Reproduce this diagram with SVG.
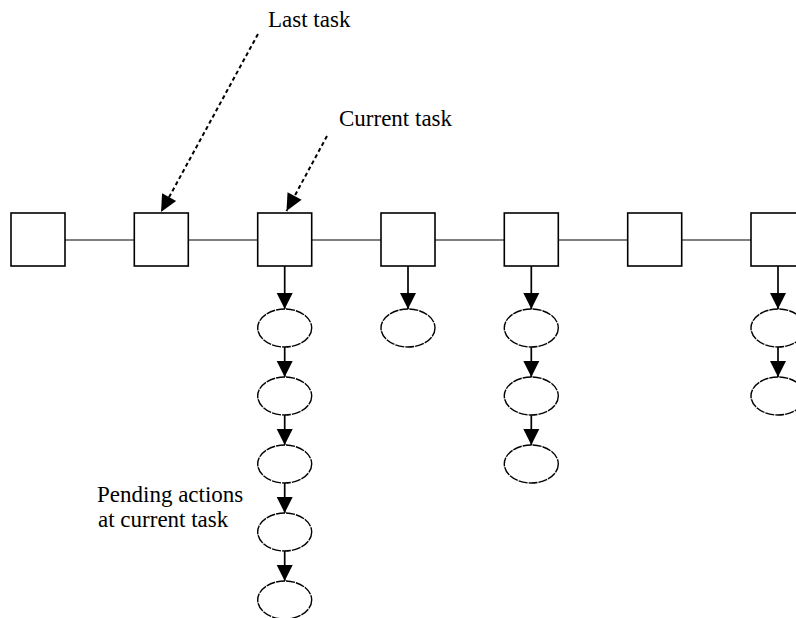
<svg xmlns="http://www.w3.org/2000/svg" width="796" height="618" viewBox="0 0 796 618">
<style>
.task{fill:#fff;stroke:#000;stroke-width:1.6}
.act{fill:#fff;stroke:#000;stroke-width:1.4;stroke-dasharray:9 1}
.link{stroke:#000;stroke-width:1.2;fill:none}
.down{stroke:#000;stroke-width:1.7;fill:none;marker-end:url(#ah)}
.ptr{stroke:#000;stroke-width:2;fill:none;stroke-dasharray:4 3;marker-end:url(#ah2)}
</style>
<defs>
<marker id="ah" markerUnits="userSpaceOnUse" markerWidth="17" markerHeight="17" refX="16" refY="8" orient="auto" overflow="visible">
<path d="M0,0 L16,8 L0,16 Z" fill="#000"/>
</marker>
<marker id="ah2" markerUnits="userSpaceOnUse" markerWidth="18" markerHeight="18" refX="17" refY="8" orient="auto" overflow="visible">
<path d="M0,0 L17,8 L0,16 Z" fill="#000"/>
</marker>
</defs>
<rect width="796" height="618" fill="#fff"/>
<g id="connectors">
<line class="link" x1="65" y1="240" x2="134.3" y2="240"/>
<line class="link" x1="188.3" y1="240" x2="257.7" y2="240"/>
<line class="link" x1="311.7" y1="240" x2="381" y2="240"/>
<line class="link" x1="435" y1="240" x2="504.3" y2="240"/>
<line class="link" x1="558.3" y1="240" x2="627.7" y2="240"/>
<line class="link" x1="681.7" y1="240" x2="751" y2="240"/>
<line class="down" x1="284.7" y1="266" x2="284.7" y2="309"/>
<line class="down" x1="284.7" y1="347" x2="284.7" y2="377"/>
<line class="down" x1="284.7" y1="415" x2="284.7" y2="445"/>
<line class="down" x1="284.7" y1="483" x2="284.7" y2="513"/>
<line class="down" x1="284.7" y1="551" x2="284.7" y2="581"/>
<line class="down" x1="408" y1="266" x2="408" y2="309"/>
<line class="down" x1="531.3" y1="266" x2="531.3" y2="309"/>
<line class="down" x1="531.3" y1="347" x2="531.3" y2="377"/>
<line class="down" x1="531.3" y1="415" x2="531.3" y2="445"/>
<line class="down" x1="778" y1="266" x2="778" y2="309"/>
<line class="down" x1="778" y1="347" x2="778" y2="377"/>
<line class="ptr" x1="258" y1="34" x2="161" y2="212"/>
<line class="ptr" x1="327" y1="136" x2="286.5" y2="211"/>
</g>
<g id="task1"><rect class="task" x="11" y="213" width="54" height="53"/></g>
<g id="task2"><rect class="task" x="134.3" y="213" width="54" height="53"/></g>
<g id="task3"><rect class="task" x="257.7" y="213" width="54" height="53"/></g>
<g id="task4"><rect class="task" x="381" y="213" width="54" height="53"/></g>
<g id="task5"><rect class="task" x="504.3" y="213" width="54" height="53"/></g>
<g id="task6"><rect class="task" x="627.7" y="213" width="54" height="53"/></g>
<g id="task7"><rect class="task" x="751" y="213" width="54" height="53"/></g>
<g id="action3a"><ellipse class="act" cx="284.7" cy="328" rx="27" ry="19"/></g>
<g id="action3b"><ellipse class="act" cx="284.7" cy="396" rx="27" ry="19"/></g>
<g id="action3c"><ellipse class="act" cx="284.7" cy="464" rx="27" ry="19"/></g>
<g id="action3d"><ellipse class="act" cx="284.7" cy="532" rx="27" ry="19"/></g>
<g id="action3e"><ellipse class="act" cx="284.7" cy="600" rx="27" ry="19"/></g>
<g id="action4a"><ellipse class="act" cx="408" cy="328" rx="27" ry="19"/></g>
<g id="action5a"><ellipse class="act" cx="531.3" cy="328" rx="27" ry="19"/></g>
<g id="action5b"><ellipse class="act" cx="531.3" cy="396" rx="27" ry="19"/></g>
<g id="action5c"><ellipse class="act" cx="531.3" cy="464" rx="27" ry="19"/></g>
<g id="action7a"><ellipse class="act" cx="778" cy="328" rx="27" ry="19"/></g>
<g id="action7b"><ellipse class="act" cx="778" cy="396" rx="27" ry="19"/></g>
<g id="labels" font-family="'Liberation Serif', Tinos, 'Times New Roman', 'DejaVu Serif', serif" font-size="23" fill="#000">
<text id="label-last" x="268" y="27">Last task</text>
<text id="label-current" x="339" y="126">Current task</text>
<text id="label-pending" x="97" y="502">Pending actions<tspan x="98" y="527">at current task</tspan></text>
</g>
</svg>
